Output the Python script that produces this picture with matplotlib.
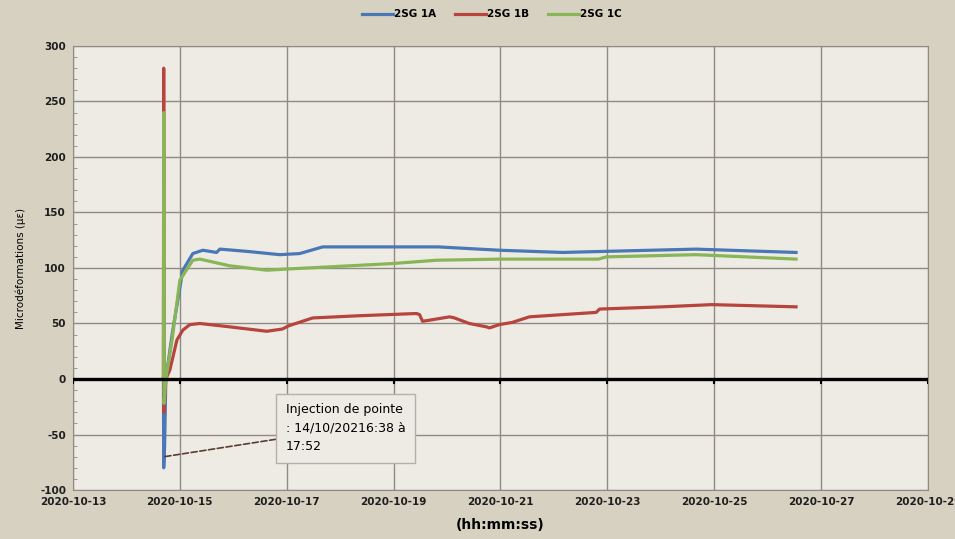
import matplotlib
matplotlib.use("Agg")
import matplotlib.pyplot as plt
import matplotlib.dates as mdates
from matplotlib.ticker import MultipleLocator
import pandas as pd

plt.rcParams["axes.unicode_minus"] = False

# readings (time, microstrain)
times_1a = ["2020-10-14 16:38", "2020-10-14 16:45", "2020-10-14 17:10", "2020-10-14 17:42",
            "2020-10-14 20:50", "2020-10-15 01:20", "2020-10-15 05:50", "2020-10-15 10:20",
            "2020-10-15 16:30", "2020-10-15 18:00", "2020-10-16 06:00", "2020-10-16 20:50",
            "2020-10-17 05:50", "2020-10-17 16:10", "2020-10-18 23:30", "2020-10-19 20:00",
            "2020-10-20 23:30", "2020-10-22 03:50", "2020-10-22 23:30", "2020-10-24 15:50",
            "2020-10-26 12:45"]
vals_1a = [0, -80, -60, 0, 44, 98, 113, 116, 114, 117, 115, 112, 113, 119, 119, 119,
           116, 114, 115, 117, 114]

times_1b = ["2020-10-14 16:38", "2020-10-14 16:45", "2020-10-14 16:55", "2020-10-14 17:42",
            "2020-10-14 19:30", "2020-10-14 22:40", "2020-10-15 01:20", "2020-10-15 04:30",
            "2020-10-15 09:00", "2020-10-15 22:20", "2020-10-16 15:00", "2020-10-16 22:00",
            "2020-10-17 01:00", "2020-10-17 11:40", "2020-10-18 08:40", "2020-10-19 10:20",
            "2020-10-19 11:40", "2020-10-19 13:00", "2020-10-19 16:10", "2020-10-20 01:10",
            "2020-10-20 03:20", "2020-10-20 10:00", "2020-10-20 17:40", "2020-10-20 19:00",
            "2020-10-20 23:30", "2020-10-21 05:20", "2020-10-21 13:00", "2020-10-22 19:00",
            "2020-10-22 20:30", "2020-10-24 00:40", "2020-10-24 23:00", "2020-10-26 12:45"]
vals_1b = [0, 280, -30, 0, 8, 35, 44, 49, 50, 47, 43, 45, 48, 55, 57, 59, 58, 52, 53,
           56, 55, 50, 47, 46, 49, 51, 56, 60, 63, 65, 67, 65]

times_1c = ["2020-10-14 16:38", "2020-10-14 16:45", "2020-10-14 16:55", "2020-10-14 17:42",
            "2020-10-14 20:30", "2020-10-15 00:00", "2020-10-15 05:50", "2020-10-15 09:00",
            "2020-10-15 22:20", "2020-10-16 15:00", "2020-10-16 23:30", "2020-10-17 19:00",
            "2020-10-18 23:30", "2020-10-19 19:20", "2020-10-20 23:30", "2020-10-22 20:00",
            "2020-10-22 23:30", "2020-10-24 15:50", "2020-10-26 12:45"]
vals_1c = [0, 240, -22, 0, 35, 89, 107, 108, 102, 98, 99, 101, 104, 107, 108, 108,
           110, 112, 108]

series_names = ["2SG 1A", "2SG 1B", "2SG 1C"]
series_colors = ["#4a78b6", "#b8443e", "#88b656"]

fig = plt.figure(figsize=(9.55, 5.39), dpi=100, facecolor="#d7d1c2")
ax = fig.add_axes([0.0764, 0.0909, 0.8953, 0.8238])
ax.set_facecolor("#eeebe5")

for t, v, name, col in zip([times_1a, times_1b, times_1c], [vals_1a, vals_1b, vals_1c],
                           series_names, series_colors):
    ax.plot(pd.to_datetime(t), v, color=col, lw=2.3, label=name)

ax.axhline(0, color="black", lw=2.4, zorder=3)

ax.set_xlim(pd.Timestamp("2020-10-13"), pd.Timestamp("2020-10-29"))
ax.set_ylim(-100, 300)
ax.xaxis.set_major_locator(mdates.DayLocator(interval=2))
ax.xaxis.set_major_formatter(mdates.DateFormatter("%Y-%m-%d"))
ax.yaxis.set_major_locator(MultipleLocator(50))
ax.yaxis.set_minor_locator(MultipleLocator(10))
ax.grid(True, which="major", color="#8f8a84", lw=1.0)
ax.set_axisbelow(True)

ax.tick_params(axis="both", which="major", length=0, labelsize=7.5, labelcolor="#1e1e1e", pad=5)
ax.tick_params(axis="y", which="minor", length=3, direction="in", color="#8f8a84")
for lab in ax.get_xticklabels() + ax.get_yticklabels():
    lab.set_fontweight("bold")
for s in ax.spines.values():
    s.set_color("#8f8a84")

# small tick marks sitting on the zero line
for d in ax.get_xticks():
    ax.plot([d, d], [0, -4], color="black", lw=1.5, zorder=3)

ax.set_ylabel("Microdéformations (µε)", fontsize=7.5, labelpad=10)
ax.set_xlabel("(hh:mm:ss)", fontsize=10, fontweight="bold", labelpad=8)

ax.annotate("Injection de pointe\n: 14/10/20216:38 à\n17:52",
            xy=(pd.Timestamp("2020-10-14 17:00"), -70),
            xytext=(pd.Timestamp("2020-10-16 23:30"), -22),
            fontsize=9, va="top", ha="left", linespacing=1.55,
            bbox=dict(boxstyle="square,pad=0.75", fc="#eeebe5", ec="#b5b0a8"),
            arrowprops=dict(arrowstyle="-", color="#5b3b32", lw=1.2, ls="--",
                            shrinkA=0, shrinkB=0))

fig.legend(loc="upper center", bbox_to_anchor=(0.515, 1.0), ncol=3, frameon=False,
           handlelength=3.0, columnspacing=1.8, handletextpad=0.1,
           prop={"weight": "bold", "size": 7.5})

fig.savefig("out.png", dpi=100, facecolor=fig.get_facecolor())
